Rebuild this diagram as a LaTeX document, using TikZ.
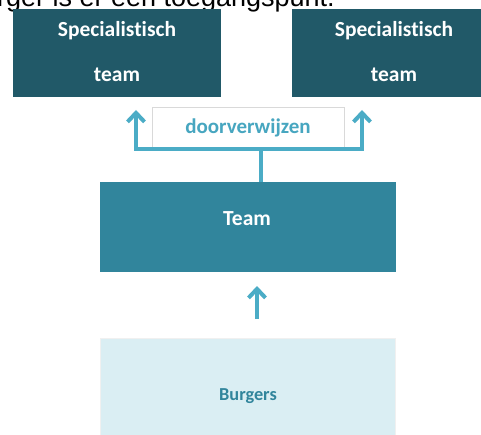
\documentclass[tikz,border=0pt]{standalone}
\usepackage{fontspec}
\setmainfont{Carlito}[RawFeature={-liga;-dlig}]
\newfontfamily\arialf{Liberation Sans}
\usetikzlibrary{arrows.meta}
\definecolor{darkteal}{HTML}{215968}
\definecolor{midteal}{HTML}{31859C}
\definecolor{lightteal}{HTML}{DAEEF3}
\definecolor{arrowblue}{HTML}{4BACC6}
\tikzset{
  darkbox/.style={fill=darkteal, draw=none, minimum width=208pt, minimum height=88pt, inner sep=0pt},
  boxtext/.style={text=white, font=\bfseries\fontsize{21.5}{24}\selectfont},
  conn/.style={draw=arrowblue, line width=4pt},
  uparrow/.style={conn, -{Straight Barb[length=9pt,width=17pt,line width=4pt]}}
}
\begin{document}
\begin{tikzpicture}[x=1pt,y=-1pt]
\useasboundingbox (0,0) rectangle (481,435);
\clip (0,0) rectangle (481,435);
% caption fragment at top
\node[anchor=base east, inner sep=0pt, font=\arialf\fontsize{27}{30}\selectfont, text=black] (cap) at (335,7) {burger is er een toegangspunt.};
% top boxes
\node[darkbox, minimum width=208pt, anchor=north west] (specl) at (13,9) {};
\node[darkbox, minimum width=190pt, anchor=north west] (specr) at (292,9) {};
\node[boxtext] (sl1) at (117,31) {Specialistisch};
\node[boxtext] (sl2) at (117,75) {team};
\node[boxtext] (sr1) at (394,31) {Specialistisch};
\node[boxtext] (sr2) at (394,75) {team};
% doorverwijzen box
\node[draw=black!15, fill=white, line width=0.6pt, minimum width=192pt, minimum height=41pt, anchor=north west, inner sep=0pt] (door) at (152,107) {};
\node[text=arrowblue!85!midteal, font=\bfseries\fontsize{21}{24}\selectfont] (doort) at (248,128) {doorverwijzen};
% team box
\node[fill=midteal, minimum width=296pt, minimum height=90pt, anchor=north west, inner sep=0pt] (team) at (100,182) {};
\node[boxtext] (teamt) at (247,219) {Team};
% burgers box
\node[fill=lightteal, draw=black!6, minimum width=295pt, minimum height=100pt, anchor=north west, inner sep=0pt] (burg) at (100,338) {};
\node[text=midteal, font=\bfseries\fontsize{18.3}{21}\selectfont] (burgt) at (248,396) {Burgers};
% connectors
\coordinate (split) at (261,149);
\coordinate (lc) at (136,149);
\coordinate (rc) at (362,149);
\coordinate (lt) at (136,110);
\coordinate (rt) at (362,110);
\draw[conn] (team.north -| split) -- (split);
\draw[uparrow] (split) -- (lc) -- (lt);
\draw[uparrow] (split) -- (rc) -- (rt);
\coordinate (a1) at (257,319);
\coordinate (a2) at (257,286);
\draw[uparrow] (a1) -- (a2);
\end{tikzpicture}
\end{document}
